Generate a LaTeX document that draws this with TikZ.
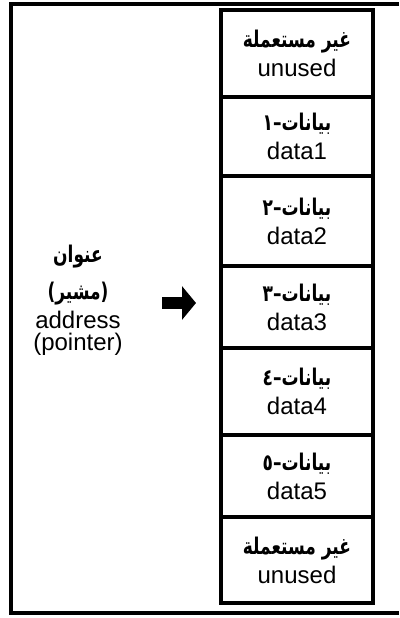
\documentclass[tikz,border=0pt]{standalone}
\usepackage{fontspec}
\setmainfont{Liberation Sans}
\newfontfamily\arabicfont[Script=Arabic, FakeStretch=0.74]{DejaVu Sans Bold}
\TeXXeTstate=1
\usetikzlibrary{positioning,arrows.meta}

\newcommand{\artext}[1]{{\arabicfont\fontsize{23}{24}\selectfont\beginR #1\endR}}

\begin{document}
\begin{tikzpicture}[x=1pt, y=-1pt, font=\fontsize{24}{29}\selectfont,
  cell/.style={draw, line width=3.5pt, outer sep=0pt, inner sep=0pt, minimum width=152pt, align=center},
  frame/.style={line width=4.5pt},
  ptr/.style={line width=12pt, -{Triangle[length=14pt, width=33pt]}}]
\useasboundingbox (0,0) rectangle (399,618);
\draw[frame] (399,4) -- (11,4) -- (11,613) -- (399,613);
\node[cell, minimum height=87pt, anchor=north] (c1) at (297,10) {\artext{غير مستعملة}\\unused};
\node[cell, minimum height=79pt, below=0pt of c1] (c2) {\artext{بيانات–١}\\data1};
\node[cell, minimum height=90pt, below=0pt of c2] (c3) {\artext{بيانات–٢}\\data2};
\node[cell, minimum height=82pt, below=0pt of c3] (c4) {\artext{بيانات–٣}\\data3};
\node[cell, minimum height=87pt, below=0pt of c4] (c5) {\artext{بيانات–٤}\\data4};
\node[cell, minimum height=82pt, below=0pt of c5] (c6) {\artext{بيانات–٥}\\data5};
\node[cell, minimum height=86pt, below=0pt of c6] (c7) {\artext{غير مستعملة}\\unused};
\node[align=center, font=\fontsize{24}{22}\selectfont] (addr) at (78,300)
  {\artext{عنوان}\\[13pt]\artext{(مشير)}\\[5pt]address\\(pointer)};
\coordinate (ps) at (162,303);
\coordinate (pe) at (196,303);
\draw[ptr] (ps) -- (pe);
\end{tikzpicture}
\end{document}
